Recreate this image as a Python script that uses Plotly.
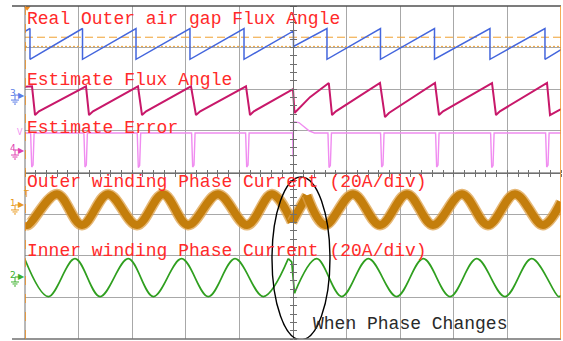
import plotly.graph_objects as go

# ---------------- data (time in divisions 0..10, amplitude in divisions -4..4) -------------
# Real outer air-gap flux angle (sawtooth vertices)
real_t = [0, 0.093, 0.093, 1.073, 1.073, 2.071, 2.071, 3.078, 3.078, 4.086, 4.086,
          5.009, 5.009, 5.634, 5.634, 6.632, 6.632, 7.640, 7.640, 8.675, 8.675,
          9.701, 9.701, 10.0]
real_v = [3.39, 3.46, 2.72, 3.46, 2.72, 3.46, 2.72, 3.46, 2.72, 3.46, 2.72,
          3.40, 3.03, 3.46, 2.72, 3.46, 2.72, 3.46, 2.72, 3.46, 2.72,
          3.46, 2.72, 2.95]

# Estimated flux angle
est_t = [0, 0.131, 0.187, 0.26, 1.138, 1.194, 1.27, 2.108, 2.183, 2.26, 3.097, 3.190, 3.27,
         4.123, 4.198, 4.27, 5.000, 5.028, 5.317, 5.668, 5.728, 5.80, 6.623, 6.716, 6.79,
         7.649, 7.724, 7.80, 8.713, 8.787, 8.86, 9.739, 9.795, 10.0]
est_v = [2.06, 2.07, 1.38, 1.47, 2.07, 1.38, 1.47, 2.07, 1.38, 1.47, 2.07, 1.38, 1.47,
         2.07, 1.38, 1.47, 2.00, 1.43, 1.81, 2.15, 1.38, 1.47, 2.15, 1.33, 1.43,
         2.15, 1.38, 1.47, 2.15, 1.38, 1.47, 2.15, 1.38, 1.52]

# Estimate error: baseline level, spike times and spike bottoms, and the phase-change bump
err_base = 0.95
err_spike_t = [0.125, 1.119, 2.114, 3.128, 4.136, 5.672, 6.654, 7.680, 8.707, 9.733]
err_spike_v = [0.13, 0.13, 0.12, 0.13, 0.13, 0.12, 0.13, 0.13, 0.12, 0.13]
err_bump_t = [4.995, 5.000, 5.010, 5.110, 5.300, 5.400]
err_bump_v = [0.95, 0.37, 1.22, 1.20, 1.00, 0.95]

# Outer winding phase current (peaks / troughs)
outer_pre_t = [0, 0.056, 0.597, 1.063, 1.549, 2.090, 2.575, 3.041, 3.601, 4.142, 4.608, 4.981]
outer_pre_v = [-1.23, -1.26, -0.52, -1.26, -0.52, -1.26, -0.52, -1.26, -0.52, -1.26, -0.52, -1.19]
outer_jump_t = [4.981, 5.093, 5.261]
outer_jump_v = [-1.19, -0.90, -0.55]
outer_post_t = [5.261, 5.597, 6.119, 6.623, 7.127, 7.612, 8.153, 8.638, 9.142, 9.664, 10.0]
outer_post_v = [-0.55, -1.26, -0.52, -1.26, -0.52, -1.26, -0.52, -1.26, -0.52, -1.26, -0.71]

# Inner winding phase current
inner_pre_t = [0, 0.435, 0.933, 1.399, 1.927, 2.394, 2.923, 3.420, 3.918, 4.446, 4.912]
inner_pre_v = [-2.09, -2.98, -2.07, -2.98, -2.07, -2.98, -2.07, -2.98, -2.07, -2.98, -2.07]
inner_jump_t = [4.912, 4.976, 5.028]
inner_jump_v = [-2.07, -2.15, -2.90]
inner_post_t = [5.028, 5.442, 5.909, 6.405, 6.935, 7.431, 7.929, 8.427, 8.955, 9.453, 9.950, 10.0]
inner_post_v = [-2.90, -2.07, -2.98, -2.07, -2.98, -2.07, -2.98, -2.07, -2.98, -2.07, -2.98, -2.96]

# cursors
cursor_levels = [3.25, 3.03]
time_cursors = [0, 10]

labels = ["Real Outer air gap Flux Angle", "Estimate Flux Angle", "Estimate Error",
          "Outer winding Phase Current (20A/div)", "Inner winding Phase Current (20A/div)"]
label_y = [3.676, 2.213, 1.062, -0.233, -1.887]
note_text = "When Phase Changes"

# channel markers: (label, colour, level)
channels = [("3", "#5a7be6", 1.86), ("4", "#e040b0", 0.54), ("1", "#e89a20", -0.78), ("2", "#3cb02c", -2.51)]

# ---------------- figure -------------
W, H = 563, 341
L, R, T, B = 25, 2, 6, 2
PW, PH = W - L - R, H - T - B
XS = PW / 10.0  # px per division


def px(x):
    return (x - L) / PW


def py(y):
    return (H - B - y) / PH


def xd(x):
    return (x - L) / XS


def lev_px(v):
    return T + PH / 2 - v * PH / 8


fig = go.Figure()

# error trace built from baseline + spikes
et, ev = [0.0], [err_base]
for s, d in zip(err_spike_t, err_spike_v):
    if s > 5.0 and et[-1] < 5.0:
        et += err_bump_t
        ev += err_bump_v
    et += [s - 0.02, s, s + 0.025, s + 0.045]
    ev += [err_base, d, d + 0.05, err_base]
et.append(10.0)
ev.append(err_base)

# cursor lines
fig.add_trace(go.Scatter(x=[0, 10], y=[cursor_levels[0]] * 2, mode="lines",
                         line=dict(color="#f0a030", width=1, dash="8px,4px"), hoverinfo="skip"))
fig.add_trace(go.Scatter(x=[0, 10], y=[cursor_levels[1]] * 2, mode="lines",
                         line=dict(color="#f0a030", width=1, dash="2px,2px"), hoverinfo="skip"))

fig.add_trace(go.Scatter(x=real_t, y=real_v, mode="lines", line=dict(color="#4466dd", width=1.5)))
fig.add_trace(go.Scatter(x=est_t, y=est_v, mode="lines", line=dict(color="#c8186a", width=2)))
fig.add_trace(go.Scatter(x=et, y=ev, mode="lines", line=dict(color="#f08cf0", width=1.4)))

for tt, vv, shp in [(outer_pre_t, outer_pre_v, "spline"), (outer_jump_t, outer_jump_v, "linear"),
                    (outer_post_t, outer_post_v, "spline")]:
    fig.add_trace(go.Scatter(x=tt, y=vv, mode="lines",
                             line=dict(color="rgba(222,160,72,0.75)", width=11, shape=shp)))
    fig.add_trace(go.Scatter(x=tt, y=vv, mode="lines",
                             line=dict(color="#c47e0c", width=8, shape=shp)))

for tt, vv, shp in [(inner_pre_t, inner_pre_v, "spline"), (inner_jump_t, inner_jump_v, "linear"),
                    (inner_post_t, inner_post_v, "spline")]:
    fig.add_trace(go.Scatter(x=tt, y=vv, mode="lines",
                             line=dict(color="#2f9f1f", width=1.7, shape=shp)))

# dummy traces for centre axes
fig.add_trace(go.Scatter(x=[None], y=[None], xaxis="x2", yaxis="y2"))
fig.add_trace(go.Scatter(x=[None], y=[None], xaxis="x3", yaxis="y3"))

# channel markers (in the left margin)
for name, col, lev in channels:
    ylev = lev_px(lev)
    fig.add_annotation(xref="paper", yref="paper", x=px(21), y=py(ylev), text="\u25B6",
                       showarrow=False, font=dict(family="DejaVu Sans", size=8, color=col),
                       xanchor="center", yanchor="middle")
    fig.add_annotation(xref="paper", yref="paper", x=px(13), y=py(ylev - 2), text=name,
                       showarrow=False, font=dict(family="DejaVu Sans", size=9, color=col),
                       xanchor="center", yanchor="middle")
    for k, (x0, x1) in enumerate([(11, 19), (12.5, 17.5), (14, 16)]):
        ypix = ylev + 5 + 2 * k
        fig.add_shape(type="line", xref="paper", yref="paper", x0=px(x0), x1=px(x1),
                      y0=py(ypix), y1=py(ypix), line=dict(color=col, width=1))
    fig.add_shape(type="line", xref="paper", yref="paper", x0=px(15), x1=px(15),
                  y0=py(ylev + 5), y1=py(ylev), line=dict(color=col, width=1))
    fig.add_shape(type="line", xref="paper", yref="paper", x0=px(15), x1=px(19),
                  y0=py(ylev), y1=py(ylev), line=dict(color=col, width=1))

fig.add_annotation(xref="paper", yref="paper", x=px(21), y=py(lev_px(-0.54)), text="T",
                   showarrow=False, font=dict(family="DejaVu Sans", size=8, color="#e89a20"))
fig.add_annotation(xref="paper", yref="paper", x=px(15), y=py(lev_px(0.95)), text="V",
                   showarrow=False, font=dict(family="DejaVu Sans", size=8, color="#f08cf0"))

# trigger markers at top
fig.add_trace(go.Scatter(x=[5], y=[4.06], mode="markers", cliponaxis=False,
                         marker=dict(symbol="triangle-down-open", size=8, color="#f0a030",
                                     line=dict(width=1.5))))
fig.add_trace(go.Scatter(x=[0.04], y=[3.96], mode="markers", cliponaxis=False,
                         marker=dict(symbol="triangle-down", size=6, color="#f08c20")))

# labels
for txt, yy in zip(labels, label_y):
    fig.add_annotation(x=0, y=yy, text=txt, showarrow=False, xanchor="left", yanchor="middle",
                       font=dict(family="Liberation Mono", size=18, color="#ff2a2a"))
fig.add_annotation(x=xd(311), y=-3.64, text=note_text, showarrow=False,
                   xanchor="left", yanchor="middle",
                   font=dict(family="Liberation Mono", size=18, color="#2a2a2a"))

# ellipse
fig.add_shape(type="circle", xref="x", yref="y", x0=4.608, x1=5.690, y0=-0.108, y1=-4.02,
              line=dict(color="black", width=1.4))

# borders
fig.add_shape(type="line", xref="paper", yref="paper", x0=px(12), x1=1, y0=1, y1=1,
              line=dict(color="#505050", width=1.5))
fig.add_shape(type="line", xref="paper", yref="paper", x0=px(12), x1=1, y0=0, y1=0,
              line=dict(color="#707070", width=1.5))
fig.add_shape(type="line", xref="paper", yref="paper", x0=0, x1=0, y0=0, y1=1,
              line=dict(color="#707070", width=1))
for tc, ds in zip(time_cursors, ["dash", "solid"]):
    fig.add_shape(type="line", xref="x", yref="paper", x0=tc, x1=tc, y0=0, y1=1,
                  line=dict(color="#f09020", width=1.5, dash=ds))

grid = dict(showgrid=True, gridcolor="#a8a8a8", gridwidth=1, zeroline=False,
            showticklabels=False, ticks="", showline=False)
centre = dict(showgrid=False, zeroline=False, showticklabels=False, showline=True,
              linecolor="#707070", linewidth=1, ticks="outside", ticklen=3,
              tickcolor="#707070", tickwidth=1)

fig.update_layout(
    width=W, height=H, margin=dict(l=L, r=R, t=T, b=B),
    paper_bgcolor="white", plot_bgcolor="white", showlegend=False,
    xaxis=dict(range=[0, 10], dtick=1, **grid),
    yaxis=dict(range=[-4, 4], dtick=1, **grid),
    xaxis2=dict(range=[0, 10], dtick=0.2, overlaying="x", anchor="free", position=0.5,
                side="top", **centre),
    xaxis3=dict(range=[0, 10], dtick=0.2, overlaying="x", anchor="free", position=0.5,
                side="bottom", **centre),
    yaxis2=dict(range=[-4, 4], dtick=0.2, overlaying="y", anchor="free", position=0.5,
                side="left", **centre),
    yaxis3=dict(range=[-4, 4], dtick=0.2, overlaying="y", anchor="free", position=0.5,
                side="right", **centre),
)

fig.write_html("out.html", config={"displayModeBar": False},
               post_script="document.body.style.margin='0';document.body.style.overflow='hidden';")
